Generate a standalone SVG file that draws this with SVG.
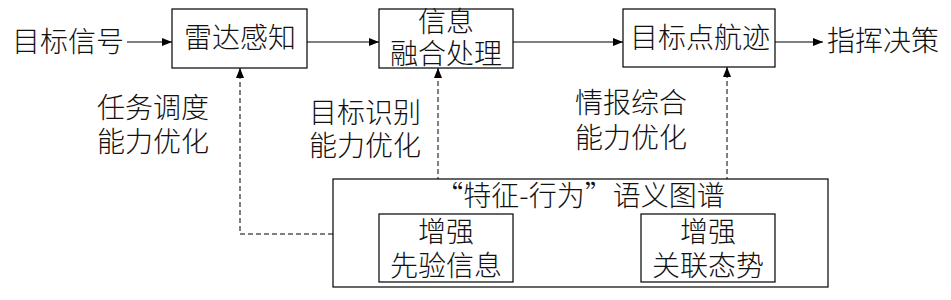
<svg xmlns="http://www.w3.org/2000/svg" width="951" height="300" viewBox="0 0 951 300">
<defs>
<marker id="ah" markerWidth="10" markerHeight="8" refX="10" refY="4" orient="auto" markerUnits="userSpaceOnUse">
<path d="M0,0 L10,4 L0,8 Z" fill="#000"/>
</marker>
<style>
text{font-family:"Noto Sans CJK SC","Noto Sans",sans-serif;font-size:28px;font-weight:300;fill:#111;text-anchor:middle}
.box{fill:#fff;stroke:#000;stroke-width:1.2}
.ln{fill:none;stroke:#000;stroke-width:1.2}
.dash{fill:none;stroke:#000;stroke-width:1;stroke-dasharray:5 3}
</style>
</defs>
<rect width="951" height="300" fill="#fff"/>
<g id="connectors">
<line class="ln" x1="127" y1="42" x2="172" y2="42" marker-end="url(#ah)"/>
<line class="ln" x1="307" y1="42" x2="379" y2="42" marker-end="url(#ah)"/>
<line class="ln" x1="513" y1="42" x2="623" y2="42" marker-end="url(#ah)"/>
<line class="ln" x1="775" y1="42" x2="823" y2="42" marker-end="url(#ah)"/>
<polyline class="dash" points="333,234 240,234 240,68" marker-end="url(#ah)"/>
<line class="dash" x1="438" y1="214" x2="438" y2="68" marker-end="url(#ah)"/>
<line class="dash" x1="727" y1="214" x2="727" y2="67" marker-end="url(#ah)"/>
</g>
<g id="src"><text x="68" y="52">目标信号</text></g>
<g id="radar"><rect class="box" x="172" y="9" width="135" height="59"/><text x="240" y="48">雷达感知</text></g>
<g id="fusion"><rect class="box" x="379" y="9" width="134" height="59"/><text x="446" y="32">信息</text><text x="446" y="64">融合处理</text></g>
<g id="track"><rect class="box" x="623" y="9" width="152" height="58"/><text x="700" y="48">目标点航迹</text></g>
<g id="cmd"><text x="883" y="51">指挥决策</text></g>
<g id="lbl1"><text x="153" y="118">任务调度</text><text x="153" y="152">能力优化</text></g>
<g id="lbl2"><text x="365" y="123">目标识别</text><text x="365" y="156">能力优化</text></g>
<g id="lbl3"><text x="631" y="113">情报综合</text><text x="631" y="148">能力优化</text></g>
<g id="graph"><rect class="box" x="333" y="179" width="495" height="108" fill="none"/><text x="580" y="206">“特征-行为”语义图谱</text></g>
<g id="prior"><rect class="box" x="379" y="214" width="134" height="68"/><text x="446" y="242">增强</text><text x="446" y="276">先验信息</text></g>
<g id="assoc"><rect class="box" x="641" y="214" width="134" height="68"/><text x="708" y="242">增强</text><text x="708" y="276">关联态势</text></g>
</svg>
